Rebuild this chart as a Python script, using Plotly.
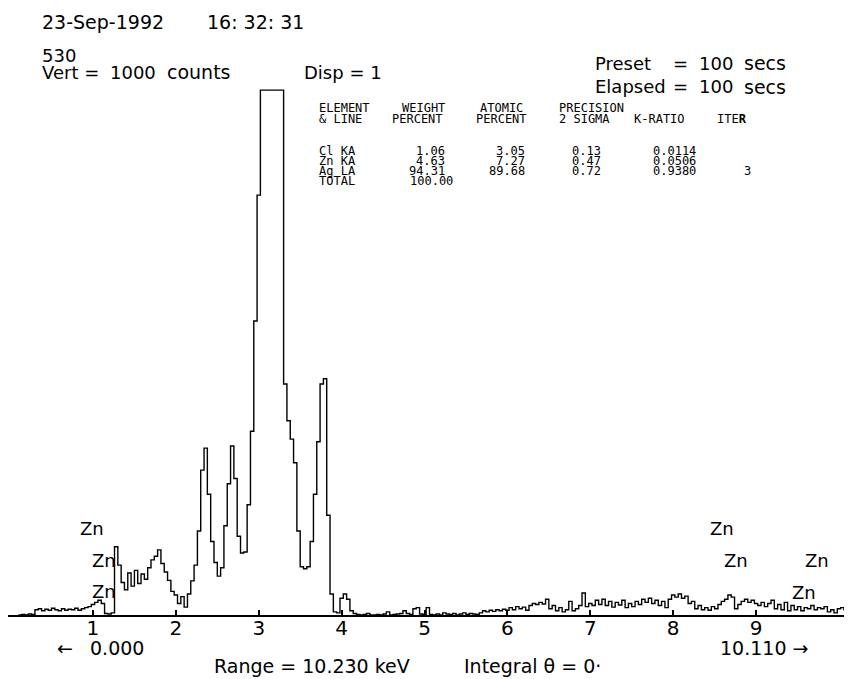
import numpy as np
import plotly.graph_objects as go

# ---- data ----
energy_start_kev = 0.10
energy_step_kev = 0.04
counts = [
    0, 1, 0, 2, 1,
    10, 12, 8, 11, 9, 13, 10, 8, 12, 9, 11, 10, 13, 9, 12, 14,
    16, 20, 24, 28,
    22,
    3, 2, 4,
    130, 95, 62, 48, 80, 55, 85, 60, 78, 68, 90, 105, 112, 124, 98, 82, 66, 45, 38, 22, 35,
    15, 40, 65, 95, 160, 276, 318, 230, 140, 100, 74, 90, 170, 250, 322, 260, 150, 118, 120, 210,
    350, 560, 800, 1000, 1000, 1000, 1000, 1000, 1000, 1000,
    440, 370, 335, 290, 160, 92, 88, 92, 140, 230, 330, 440, 450, 190, 40, 6, 4, 32, 40, 30, 8,
    3, 1, 0, 1, 3, 0, 0, 1, 0, 2, 6, 0, 1, 2, 3, 8, 3, 1, 12, 14,
    2, 1, 14, 1, 0, 2, 0, 4, 2, 1, 3, 0, 2, 4, 1, 3, 2, 1, 4, 8,
    6, 9, 7, 10, 8, 11, 9, 14, 10, 16,
    12, 15, 9, 18, 22, 20, 24, 21, 30, 12, 18, 8, 14, 6, 10, 26, 8, 12, 18, 42,
    16, 22, 18, 28, 20, 30, 18, 26, 15, 24, 19, 28, 14, 22, 16, 26, 20, 30, 24, 32,
    22, 28, 18, 26, 14, 30, 38, 34, 40, 32,
    36, 22, 26, 12, 18, 10, 14, 9, 16, 12, 20, 26, 30, 38, 34, 12, 20, 26, 30, 24,
    28, 22, 18, 24, 16, 22, 28, 12, 20, 10, 24, 8, 18, 10, 16, 8, 14, 12, 18, 10,
    14, 12, 16, 6, 10, 4, 12, 14, 10, 4,
]
energy_kev = np.round(energy_start_kev + energy_step_kev * np.arange(len(counts)), 2)

tick_values = [1, 2, 3, 4, 5, 6, 7, 8, 9]
tick_labels = ["1", "2", "3", "4", "5", "6", "7", "8", "9"]

table_header1 = ["ELEMENT", "WEIGHT", "ATOMIC", "PRECISION"]
table_header2 = ["& LINE", "PERCENT", "PERCENT", "2 SIGMA", "K-RATIO", "ITE<b>R</b>"]
elements = ["Cl KA", "Zn KA", "Ag LA", "TOTAL"]
weight_pct = ["1.06", "4.63", "94.31", "100.00"]
atomic_pct = ["3.05", "7.27", "89.68"]
precision = ["0.13", "0.47", "0.72"]
k_ratio = ["0.0114", "0.0506", "0.9380"]
iterations = "3"

# ---- layout geometry (page body has an 8 px margin) ----
OFF = 8
W, H = 852 - OFF, 679 - OFF
# plot area in reference pixels: x 8..851, y 88..615
L, R, T, B = 8 - OFF, 1, 88 - OFF, 64
PW, PH = W - L - R, H - T - B


def px(x):
    return (x - OFF - L) / PW


def py(y):
    return (H - B - (y - OFF)) / PH


fig = go.Figure()
fig.add_trace(go.Scatter(
    x=energy_kev, y=counts, mode="lines", line_shape="hv",
    line=dict(color="black", width=1.4), hoverinfo="skip", showlegend=False,
))

FONT = "DejaVu Sans"
MONO = "DejaVu Sans Mono"
ann = []


def text(x, y, s, size=18, family=FONT, anchor="left"):
    ann.append(dict(x=px(x), y=py(y), xref="paper", yref="paper", text=s,
                    showarrow=False, xanchor=anchor, yanchor="middle",
                    font=dict(family=family, size=size, color="black")))


# header texts
text(40, 22, "23-Sep-1992", size=19)
text(205, 22, "16: 32: 31", size=19)
text(40, 55, "530")
text(40, 72, "Vert =")
text(108, 72, "1000")
text(165, 72, "counts", size=19)
text(302, 72, "Disp = 1")
text(593, 63, "Preset")
text(671, 63, "=")
text(697, 63, "100")
text(742, 63, "secs", size=19)
text(593, 87, "Elapsed")
text(671, 87, "=")
text(697, 87, "100")
text(742, 87, "secs", size=19)

# table
ms = 12
hx1 = [317, 400, 478, 557]
for s, x in zip(table_header1, hx1):
    text(x, 108, s, size=ms, family=MONO)
hx2 = [317, 390, 474, 557, 632, 715]
for s, x in zip(table_header2, hx2):
    text(x, 119, s, size=ms, family=MONO)
rows_y = [151, 161, 171, 181]
for i, y in enumerate(rows_y):
    text(317, y, elements[i], size=ms, family=MONO)
    text(447 if i < 3 else 455, y, weight_pct[i], size=ms, family=MONO, anchor="right")
    if i < 3:
        text(527, y, atomic_pct[i], size=ms, family=MONO, anchor="right")
        text(603, y, precision[i], size=ms, family=MONO, anchor="right")
        text(698, y, k_ratio[i], size=ms, family=MONO, anchor="right")
text(742, 171, iterations, size=ms, family=MONO)

# Zn markers
for x, y in [(78, 528), (90, 560), (90, 591), (708, 528), (722, 560), (803, 560), (790, 592)]:
    text(x, y, "Zn", size=18)

# bottom texts
text(55, 648, "\u2190", size=19)
text(88, 648, "0.000", size=19)
text(718, 648, "10.110 \u2192", size=19)
text(212, 666, "Range = 10.230 keV", size=19)
text(462, 666, "Integral \u03b8 = 0\u00b7", size=19)

fig.update_layout(
    width=W, height=H,
    margin=dict(l=L, r=R, t=T, b=B, pad=0),
    paper_bgcolor="white", plot_bgcolor="white",
    annotations=ann,
    xaxis=dict(range=[-0.025, 10.145], showgrid=False, zeroline=False,
               showline=True, linecolor="black", linewidth=2,
               ticks="inside", ticklen=5, tickwidth=1.5, tickcolor="black",
               tickvals=tick_values, ticktext=tick_labels, ticklabelstandoff=-6,
               tickfont=dict(family=FONT, size=20, color="black")),
    yaxis=dict(range=[0, 1004], visible=False, showgrid=False, zeroline=False),
)

fig.write_html("out.html")
